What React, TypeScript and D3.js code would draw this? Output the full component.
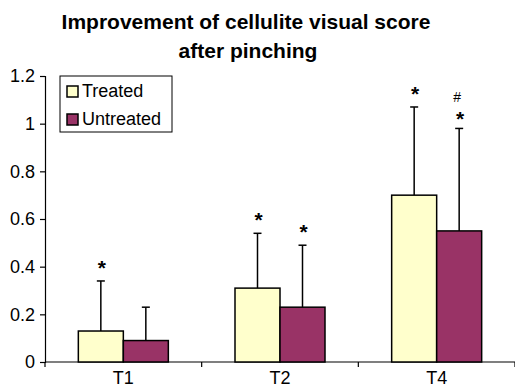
import React, { useEffect, useRef } from 'react';
import * as d3 from 'd3';

const categories = ['T1', 'T2', 'T4'];
const seriesNames = ['Treated', 'Untreated'];
const treatedValues = [0.13, 0.31, 0.7];
const untreatedValues = [0.09, 0.23, 0.55];
const treatedErrors = [0.21, 0.23, 0.37];
const untreatedErrors = [0.14, 0.26, 0.43];
const treatedMarks = ['*', '*', '*'];
const untreatedMarks = ['', '*', '*'];
const untreatedHash = ['', '', '#'];
const yTicks = [0, 0.2, 0.4, 0.6, 0.8, 1, 1.2];
const seriesColors = ['#FFFFCC', '#993366'];

const W = 515;
const H = 389;

const App = () => {
  const ref = useRef<SVGSVGElement>(null);

  useEffect(() => {
    const svg = d3.select(ref.current);
    svg.selectAll('*').remove();

    const font = 'Liberation Sans, Arial, sans-serif';
    const margin = { top: 76, right: 0, bottom: 27, left: 45 };
    const y0 = H - margin.bottom;

    const x = d3.scaleBand().domain(categories).range([margin.left, W - margin.right]);
    const y = d3.scaleLinear().domain([0, 1.2]).range([y0, margin.top]);
    const bw = x.bandwidth();
    const xs = d3.scaleBand().domain(seriesNames).range([bw / 2 - 45, bw / 2 + 45]);

    // Title
    const title = svg.append('text')
      .attr('text-anchor', 'middle')
      .style('font-family', font)
      .style('font-weight', 'bold')
      .style('font-size', '21px')
      .style('fill', '#000');
    title.append('tspan').attr('x', 246).attr('y', 29).text('Improvement of cellulite visual score');
    title.append('tspan').attr('x', 248).attr('y', 58).text('after pinching');

    // Y axis
    const yAxis = svg.append('g').attr('transform', `translate(${margin.left},0)`)
      .call(d3.axisLeft(y).tickValues(yTicks).tickSize(5).tickPadding(5).tickFormat(d => `${d}`));
    yAxis.select('.domain').attr('stroke', '#000').attr('stroke-width', 1.2);
    yAxis.selectAll('line').attr('stroke', '#000').attr('stroke-width', 1.2);
    yAxis.selectAll('text').style('font-family', font).style('font-size', '18px').style('fill', '#000');

    // X axis
    const xg = svg.append('g');
    xg.append('line')
      .attr('x1', margin.left).attr('x2', W).attr('y1', y0).attr('y2', y0)
      .attr('stroke', '#000').attr('stroke-width', 1.2);
    const bounds = categories.map(c => x(c) as number).concat([x.range()[1]]);
    xg.selectAll('.xt').data(bounds).enter().append('line')
      .attr('x1', d => d).attr('x2', d => d).attr('y1', y0).attr('y2', y0 + 5)
      .attr('stroke', '#000').attr('stroke-width', 1.2);
    xg.selectAll('.xl').data(categories).enter().append('text')
      .attr('x', d => (x(d) as number) + bw / 2)
      .attr('y', y0 + 22)
      .attr('text-anchor', 'middle')
      .style('font-family', font).style('font-size', '18px').style('fill', '#000')
      .text(d => d);

    const series = [
      { name: seriesNames[0], values: treatedValues, errors: treatedErrors, marks: treatedMarks, hash: categories.map(() => ''), color: seriesColors[0] },
      { name: seriesNames[1], values: untreatedValues, errors: untreatedErrors, marks: untreatedMarks, hash: untreatedHash, color: seriesColors[1] },
    ];

    series.forEach(s => {
      const g = svg.append('g');
      const rows = categories.map((c, i) => ({ c, v: s.values[i], e: s.errors[i], m: s.marks[i], h: s.hash[i] }));
      const cx = (d: any) => (x(d.c) as number) + (xs(s.name) as number) + xs.bandwidth() / 2;

      // error bars
      g.selectAll('.err').data(rows).enter().append('line')
        .attr('x1', cx).attr('x2', cx)
        .attr('y1', d => y(d.v)).attr('y2', d => y(d.v + d.e))
        .attr('stroke', '#000').attr('stroke-width', 1.5);
      g.selectAll('.cap').data(rows).enter().append('line')
        .attr('x1', d => cx(d) - 4).attr('x2', d => cx(d) + 4)
        .attr('y1', d => y(d.v + d.e)).attr('y2', d => y(d.v + d.e))
        .attr('stroke', '#000').attr('stroke-width', 1.5);

      g.selectAll('rect').data(rows).enter().append('rect')
        .attr('x', d => (x(d.c) as number) + (xs(s.name) as number))
        .attr('y', d => y(d.v))
        .attr('width', xs.bandwidth())
        .attr('height', d => y0 - y(d.v))
        .attr('fill', s.color)
        .attr('stroke', '#000')
        .attr('stroke-width', 1.5);

      g.selectAll('.star').data(rows).enter().append('text')
        .attr('x', d => cx(d) + 1)
        .attr('y', d => y(d.v + d.e) - (d.h ? 2 : 6))
        .attr('text-anchor', 'middle')
        .style('font-family', font).style('font-size', '21px').style('font-weight', 'bold').style('fill', '#000')
        .text(d => d.m);

      g.selectAll('.hash').data(rows).enter().append('text')
        .attr('x', d => cx(d) - 2)
        .attr('y', d => y(d.v + d.e) - 26)
        .attr('text-anchor', 'middle')
        .style('font-family', font).style('font-size', '14px').style('fill', '#000')
        .text(d => d.h);
    });

    // Legend
    const lg = svg.append('g');
    lg.append('rect').attr('x', 60).attr('y', 76).attr('width', 112).attr('height', 56)
      .attr('fill', '#fff').attr('stroke', '#000').attr('stroke-width', 1);
    seriesNames.forEach((n, i) => {
      lg.append('rect').attr('x', 67).attr('y', 86 + i * 28).attr('width', 11).attr('height', 11)
        .attr('fill', seriesColors[i]).attr('stroke', '#000').attr('stroke-width', 1.5);
      lg.append('text').attr('x', 82).attr('y', 97 + i * 28)
        .style('font-family', font).style('font-size', '18px').style('fill', '#000')
        .text(n);
    });
  }, []);

  return (
    <svg ref={ref} width={W} height={H}
      style={{ position: 'absolute', left: 0, top: 0, background: '#fff' }} />
  );
};

export default App;
